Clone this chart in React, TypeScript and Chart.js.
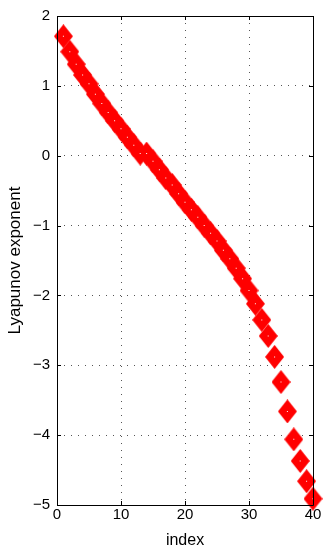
import React, { useEffect, useRef } from "react";
import { Chart, registerables } from "chart.js";

Chart.register(...registerables);

const indices = [
  1, 2, 3, 4, 5, 6, 7, 8, 9, 10,
  11, 12, 13, 14, 15, 16, 17, 18, 19, 20,
  21, 22, 23, 24, 25, 26, 27, 28, 29, 30,
  31, 32, 33, 34, 35, 36, 37, 38, 39, 40,
];
const exponents = [
  1.71, 1.49, 1.31, 1.155, 1.03, 0.88, 0.746, 0.62, 0.5, 0.385,
  0.265, 0.15, 0.03, 0.03, -0.08, -0.2, -0.32, -0.42, -0.545, -0.665,
  -0.775, -0.88, -1.0, -1.11, -1.22, -1.355, -1.475, -1.61, -1.76, -1.93,
  -2.12, -2.35, -2.58, -2.88, -3.24, -3.66, -4.06, -4.37, -4.66, -4.91,
];
const xTicks = [0, 10, 20, 30, 40];
const yTicks = [-5, -4, -3, -2, -1, 0, 1, 2];

const FONT = "'Liberation Sans', Arial, Helvetica, sans-serif";

function makeDiamond(): HTMLCanvasElement {
  const c = document.createElement("canvas");
  c.width = 19;
  c.height = 24;
  const g = c.getContext("2d")!;
  g.fillStyle = "#ff0000";
  g.beginPath();
  g.moveTo(9.5, 0);
  g.lineTo(19, 12);
  g.lineTo(9.5, 24);
  g.lineTo(0, 12);
  g.closePath();
  g.fill();
  return c;
}

const boxPlugin = {
  id: "matlabBox",
  afterDatasetsDraw(chart: any) {
    const { ctx, chartArea: a, scales } = chart;
    ctx.save();
    ctx.strokeStyle = "#000";
    ctx.lineWidth = 1;
    ctx.setLineDash([]);
    ctx.beginPath();
    ctx.rect(Math.round(a.left) + 0.5, Math.round(a.top) + 0.5, Math.round(a.right - a.left), Math.round(a.bottom - a.top));
    const L = 4;
    xTicks.forEach((t) => {
      const x = Math.round(scales.x.getPixelForValue(t)) + 0.5;
      ctx.moveTo(x, a.bottom);
      ctx.lineTo(x, a.bottom - L);
      ctx.moveTo(x, a.top);
      ctx.lineTo(x, a.top + L);
    });
    yTicks.forEach((t) => {
      const y = Math.round(scales.y.getPixelForValue(t)) + 0.5;
      ctx.moveTo(a.left, y);
      ctx.lineTo(a.left + L, y);
      ctx.moveTo(a.right, y);
      ctx.lineTo(a.right - L, y);
    });
    ctx.stroke();
    ctx.restore();
  },
};

const fmt = (v: any) => String(v).replace("-", "\u2212");

export default function App() {
  const ref = useRef<HTMLCanvasElement>(null);
  useEffect(() => {
    const points = indices.map((x, i) => ({ x, y: exponents[i] }));
    const diamond = makeDiamond();
    const chart = new Chart(ref.current!, {
      type: "scatter",
      data: {
        datasets: [
          {
            data: points,
            pointStyle: "rect",
            pointRadius: 0.71,
            pointBackgroundColor: "#ffffff",
            pointBorderColor: "#ffffff",
            pointBorderWidth: 0,
            order: 0,
            clip: false,
          } as any,
          {
            data: points,
            pointStyle: diamond,
            pointRadius: 10,
            pointBackgroundColor: "#ff0000",
            pointBorderColor: "#ff0000",
            pointBorderWidth: 0,
            order: 1,
            clip: false,
          } as any,
        ],
      },
      options: {
        animation: false,
        responsive: false,
        events: [],
        layout: { padding: { top: 14, right: 11, left: 0, bottom: 0 } },
        plugins: { legend: { display: false }, tooltip: { enabled: false } },
        scales: {
          x: {
            type: "linear",
            min: 0,
            max: 40,
            afterBuildTicks: (s: any) => {
              s.ticks = xTicks.map((v) => ({ value: v }));
            },
            afterFit: (s: any) => {
              s.height = 45;
            },
            ticks: {
              color: "#000",
              font: { family: FONT, size: 15 },
              padding: 1,
              callback: fmt,
              maxRotation: 0,
            },
            grid: {
              color: (c: any) =>
                c.tick && (c.tick.value === 0 || c.tick.value === 40) ? "rgba(0,0,0,0)" : "#555",
              drawTicks: false,
              lineWidth: 1,
            },
            border: { display: false, dash: [1, 6] },
            title: {
              display: true,
              text: "index",
              color: "#000",
              font: { family: FONT, size: 16 },
              padding: { top: 0, bottom: 0 },
            },
          },
          y: {
            type: "linear",
            min: -5,
            max: 2,
            afterBuildTicks: (s: any) => {
              s.ticks = yTicks.map((v) => ({ value: v }));
            },
            afterFit: (s: any) => {
              s.width = 57;
            },
            ticks: {
              color: "#000",
              font: { family: FONT, size: 15 },
              padding: 7,
              callback: fmt,
            },
            grid: {
              color: (c: any) =>
                c.tick && (c.tick.value === -5 || c.tick.value === 2) ? "rgba(0,0,0,0)" : "#555",
              drawTicks: false,
              lineWidth: 1,
            },
            border: { display: false, dash: [1, 6] },
            title: {
              display: true,
              text: "Lyapunov exponent",
              color: "#000",
              font: { family: FONT, size: 17 },
              padding: { top: 5, bottom: 0 },
            },
          },
        },
      },
      plugins: [boxPlugin],
    } as any);
    return () => chart.destroy();
  }, []);
  return (
    <div style={{ position: "fixed", left: 0, top: 0, width: 324, height: 550, background: "#fff" }}>
      <canvas ref={ref} width={324} height={550} style={{ display: "block", width: 324, height: 550 }} />
    </div>
  );
}
